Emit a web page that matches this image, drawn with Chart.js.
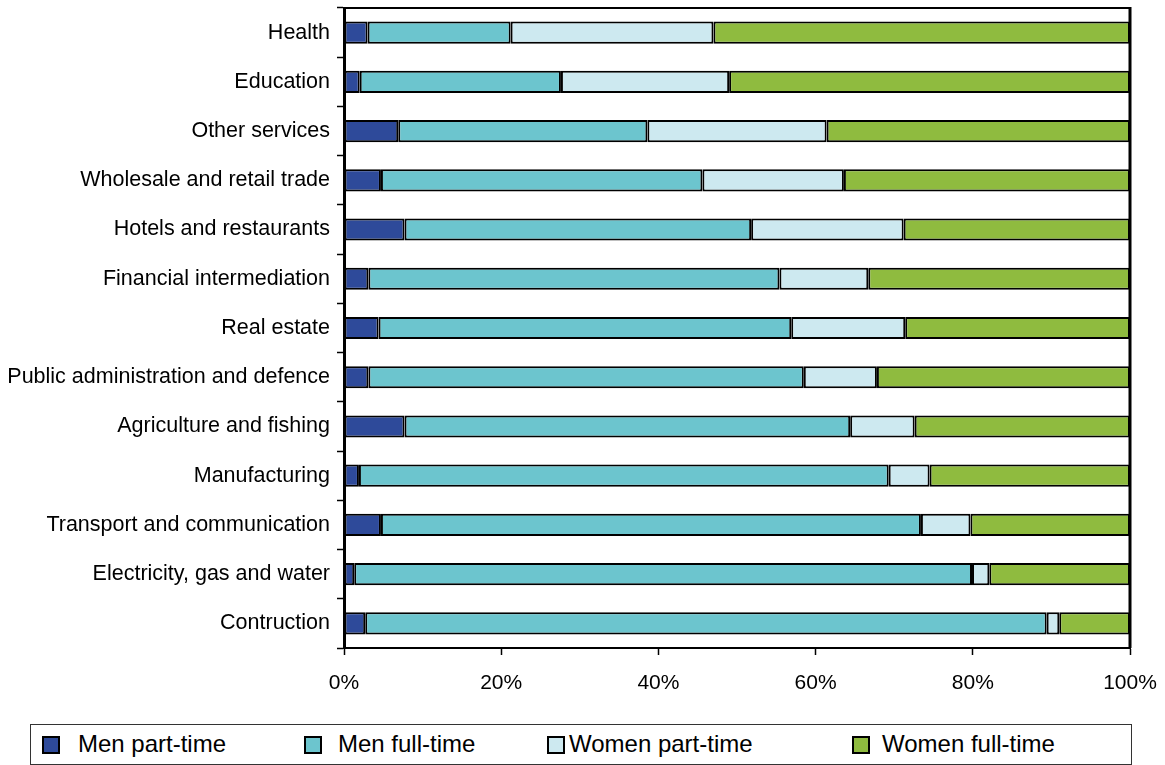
<!DOCTYPE html>
<html><head><meta charset="utf-8">
<script src="https://cdn.jsdelivr.net/npm/chart.js@4/dist/chart.umd.min.js"></script>
<style>
html,body{margin:0;padding:0;background:#fff;}
#wrap{position:relative;width:1165px;height:765px;overflow:hidden;font-family:"Liberation Sans",Arial,sans-serif;}
#chartBox{position:absolute;left:0;top:0;width:1165px;height:710px;}
#legend{position:absolute;left:30px;top:724px;width:1102px;height:41px;border:1px solid #333;box-sizing:border-box;}
.sw{position:absolute;top:11px;width:14px;height:14px;border:2px solid #000;}
.lt{position:absolute;top:5px;font-size:24px;line-height:28px;color:#000;white-space:nowrap;}
</style>
</head><body>
<div id="wrap">
  <div id="chartBox"><canvas id="c" width="1165" height="710"></canvas></div>
  <div id="legend"></div>
</div>
<script>
const categories = ["Health","Education","Other services","Wholesale and retail trade","Hotels and restaurants","Financial intermediation","Real estate","Public administration and defence","Agriculture and fishing","Manufacturing","Transport and communication","Electricity, gas and water","Contruction"];
const seriesNames = ["Men part-time","Men full-time","Women part-time","Women full-time"];
const menPartTime   = [3.0, 2.0, 6.9, 4.7, 7.7, 3.1, 4.4, 3.1, 7.7, 1.9, 4.7, 1.3, 2.7];
const menFullTime   = [18.2, 25.6, 31.7, 40.9, 44.1, 52.3, 52.5, 55.4, 56.7, 67.4, 68.7, 78.6, 86.7];
const womenPartTime = [25.8, 21.4, 22.8, 18.0, 19.4, 11.3, 14.5, 9.3, 8.2, 5.2, 6.3, 2.2, 1.6];
const womenFullTime = [53.0, 51.0, 38.6, 36.4, 28.8, 33.3, 28.6, 32.2, 27.4, 25.5, 20.3, 17.9, 9.0];
const xTicks = [0, 20, 40, 60, 80, 100];

const colors = ["#2E4A9A", "#6CC5CE", "#CDE9F0", "#8FBB3F"];
const seriesData = [menPartTime, menFullTime, womenPartTime, womenFullTime];
const FONT = '"Liberation Sans", Arial, sans-serif';

const framePlugin = {
  id: 'frame',
  afterDatasetsDraw(chart) {
    const {ctx, chartArea: a} = chart;
    ctx.save();
    ctx.strokeStyle = '#000';
    ctx.lineWidth = 2;
    ctx.beginPath(); ctx.moveTo(a.left, a.top); ctx.lineTo(a.right + 1, a.top); ctx.stroke();
    ctx.lineWidth = 3;
    ctx.beginPath(); ctx.moveTo(a.right, a.top - 1); ctx.lineTo(a.right, a.bottom); ctx.stroke();
    ctx.restore();
  }
};

new Chart(document.getElementById('c'), {
  type: 'bar',
  data: {
    labels: categories,
    datasets: seriesNames.map((n, i) => ({
      label: n,
      data: seriesData[i],
      backgroundColor: colors[i],
      borderColor: '#000',
      borderWidth: 2,
      borderSkipped: false,
      barPercentage: 0.9,
      categoryPercentage: 0.5
    }))
  },
  options: {
    indexAxis: 'y',
    responsive: false,
    animation: false,
    devicePixelRatio: 1,
    layout: {padding: {top: 8, right: 35, left: 0, bottom: 0}},
    plugins: {legend: {display: false}, tooltip: {enabled: false}},
    scales: {
      x: {
        stacked: true,
        min: 0, max: 100,
        afterBuildTicks: s => { s.ticks = xTicks.map(v => ({value: v})); },
        afterFit: s => { s.height = 62; s.paddingLeft = 0; s.paddingRight = 0; },
        ticks: {callback: v => v + '%', color: '#000', font: {family: FONT, size: 21}, padding: 16, maxRotation: 0},
        grid: {drawOnChartArea: false, drawTicks: true, tickLength: 7, tickColor: '#000', tickWidth: 1.5},
        border: {display: true, color: '#000', width: 2}
      },
      y: {
        stacked: true,
        afterFit: s => { s.width = 344; s.paddingTop = 0; s.paddingBottom = 0; },
        ticks: {color: '#000', font: {family: FONT, size: 21.5}, padding: 7, autoSkip: false},
        grid: {drawOnChartArea: false, drawTicks: true, tickLength: 7, tickColor: '#000', tickWidth: 1.5, offset: true},
        border: {display: true, color: '#000', width: 3}
      }
    }
  },
  plugins: [framePlugin]
});

// legend
const legendSquareX = [11, 273, 516, 821];
const legendTextX = [47, 307, 538, 851];
const lg = document.getElementById('legend');
seriesNames.forEach((n, i) => {
  const s = document.createElement('div');
  s.className = 'sw'; s.style.left = legendSquareX[i] + 'px'; s.style.background = colors[i];
  const t = document.createElement('div');
  t.className = 'lt'; t.style.left = legendTextX[i] + 'px'; t.textContent = n;
  lg.appendChild(s); lg.appendChild(t);
});
</script>
</body></html>
